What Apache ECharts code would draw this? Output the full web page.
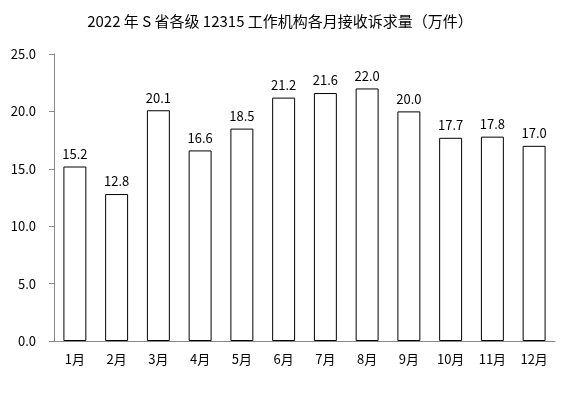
<!DOCTYPE html>
<html><head><meta charset="utf-8">
<script src="https://cdn.jsdelivr.net/npm/echarts@6/dist/echarts.min.js"></script>
<style>html,body{margin:0;padding:0;background:#fff}#c{width:579px;height:393px}</style>
</head><body><div id="c"></div>
<script>
var titleText = "2022 年 S 省各级 12315 工作机构各月接收诉求量（万件）";
var categories = ["1月","2月","3月","4月","5月","6月","7月","8月","9月","10月","11月","12月"];
var values = [15.2, 12.8, 20.1, 16.6, 18.5, 21.2, 21.6, 22.0, 20.0, 17.7, 17.8, 17.0];
var yMin = 0, yMax = 25, yStep = 5;
var font = '"Noto Sans CJK SC", "Noto Sans", sans-serif';
var chart = echarts.init(document.getElementById('c'), null, {renderer:'canvas'});
chart.setOption({
  animation:false,
  backgroundColor:'#fff',
  title:{text:titleText,left:275,top:9,textAlign:'center',
    textStyle:{fontFamily:font,fontSize:15,fontWeight:'normal',color:'#000'}},
  grid:{left:54,right:24,top:54,bottom:52},
  xAxis:{type:'category',data:categories,
    axisLine:{lineStyle:{color:'#888',width:1}},
    axisTick:{show:false},
    axisLabel:{fontFamily:font,fontSize:13,color:'#000',margin:12}},
  yAxis:{type:'value',min:yMin,max:yMax,interval:yStep,
    axisLine:{show:true,lineStyle:{color:'#888',width:1}},
    axisTick:{show:true,length:5,lineStyle:{color:'#888'}},
    splitLine:{show:false},
    axisLabel:{fontFamily:font,fontSize:13,color:'#000',margin:18,
      formatter:function(v){return v.toFixed(1);}}},
  series:[{type:'bar',data:values,barWidth:'55%',
    itemStyle:{color:'#fff',borderColor:'#000',borderWidth:1},
    label:{show:true,position:'top',distance:6,fontFamily:font,fontSize:13,color:'#000',
      formatter:function(p){return p.value.toFixed(1);}}}]
});
</script></body></html>
